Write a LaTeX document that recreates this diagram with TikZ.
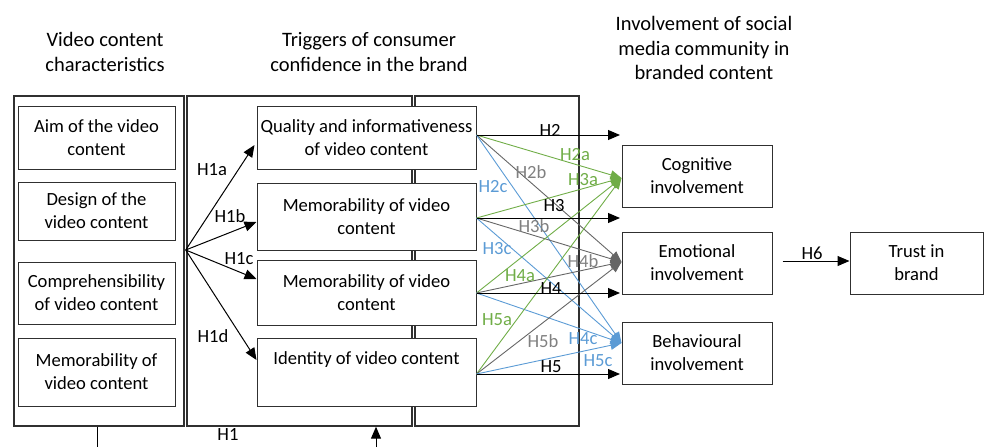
\documentclass[tikz,border=0pt]{standalone}
\usepackage{fontspec}
\setmainfont{Carlito}
\usetikzlibrary{arrows.meta,calc}
\definecolor{hgreen}{HTML}{70AD47}
\definecolor{hblue}{HTML}{5B9BD5}
\definecolor{hgrayl}{HTML}{666666}
\definecolor{hgrayt}{HTML}{808080}
\definecolor{frm}{HTML}{303030}
\tikzset{
  every node/.style={font=\fontsize{18.6}{22.8}\selectfont, inner sep=0pt},
  frame/.style={draw=frm, line width=1.4pt},
  box/.style={draw=frm, fill=white, line width=1pt, align=center},
  arr/.style={draw=black, line width=1pt, -{Triangle[length=12pt,width=10pt]}},
  garr/.style={draw=hgreen, line width=0.9pt, -{Triangle[length=11pt,width=9pt]}},
  yarr/.style={draw=hgrayl, line width=0.9pt, -{Triangle[length=11pt,width=9pt]}},
  barr/.style={draw=hblue, line width=0.9pt, -{Triangle[length=11pt,width=9pt]}},
  lab/.style={text=black},
  glab/.style={text=hgreen},
  ylab/.style={text=hgrayt},
  blab/.style={text=hblue},
  title/.style={align=center, font=\fontsize{20.5}{24.3}\selectfont}
}
\begin{document}
\begin{tikzpicture}[x=1pt,y=-1pt]
\useasboundingbox (0,0) rectangle (984,447);
% titles
\node[title] (t1) at (105,52) {Video content\\characteristics};
\node[title] (t2) at (369,52) {Triggers of consumer\\confidence in the brand};
\node[title] (t3) at (704,48) {Involvement of social\\media community in\\branded content};
% frames
\node[frame, minimum width=170, minimum height=330] (f1) at (99,261) {};
\node[frame, minimum width=225, minimum height=330] (f2) at (299.5,261) {};
\node[frame, minimum width=164, minimum height=330] (f3) at (497,261) {};
% left boxes
\node[box, minimum width=157, minimum height=63] (l1) at (96.5,137.5) {Aim of the video\\content};
\node[box, minimum width=157, minimum height=58] (l2) at (96.5,211) {Design of the\\video content};
\node[box, minimum width=157, minimum height=62] (l3) at (96.5,293) {Comprehensibility\\of video content};
\node[box, minimum width=157, minimum height=68] (l4) at (96.5,372) {Memorability of\\video content};
% middle boxes
\node[box, minimum width=219, minimum height=63] (b1) at (366.5,137.5) {Quality and informativeness\\of video content};
\node[box, minimum width=219, minimum height=67] (b2) at (366.5,216.5) {Memorability of video\\content};
\node[box, minimum width=219, minimum height=65] (b3) at (366.5,292.5) {Memorability of video\\content};
\node[box, minimum width=219, minimum height=68] (b4) at (366.5,372) {Identity of video content\\[6pt]\mbox{}};
% right boxes
\node[box, minimum width=150, minimum height=62] (cog) at (697,176) {Cognitive\\involvement};
\node[box, minimum width=150, minimum height=62] (emo) at (697,263) {Emotional\\involvement};
\node[box, minimum width=150, minimum height=62] (beh) at (697,353) {Behavioural\\involvement};
\node[box, minimum width=133, minimum height=62] (tru) at (916.5,263) {Trust in\\brand};
% H1 fan
\coordinate (fan) at ($(f1.east)+(1,-11)$);
\draw[arr] (fan) -- ($(b1.west)+(-2,7.5)$);
\draw[arr] (fan) -- ($(b2.west)+(0,5.5)$);
\draw[arr] (fan) -- ($(b3.west)+(0,-13.5)$);
\draw[arr] (fan) -- ($(b4.west)+(0,-12)$);
\node[lab] (h1a) at (212,170) {H1a};
\node[lab] (h1b) at (230,216) {H1b};
\node[lab] (h1c) at (239,259) {H1c};
\node[lab] (h1d) at (213,336) {H1d};
\node[lab] (h1) at (228,435) {H1};
% bottom connectors
\coordinate (bl) at (97,447);
\coordinate (br) at (376,447);
\draw[line width=1pt] ($(f1.south)+(-2,0)$) -- (bl);
\draw[arr] (br) -- ($(f2.south)+(76.5,0)$);
% sources
\coordinate (s1) at ($(b1.east)+(0,-2.5)$);
\coordinate (s2) at ($(b2.east)+(0,1.5)$);
\coordinate (s3) at ($(b3.east)+(0,0.5)$);
\coordinate (s4) at ($(b4.east)+(0,2)$);
\coordinate (cg) at ($(cog.west)+(0,2)$);
\coordinate (em) at ($(emo.west)+(0,-1)$);
\coordinate (be) at ($(beh.west)+(0,-10)$);
% coloured paths
\foreach \s in {s1,s2,s3,s4}{
  \draw[garr] (\s) -- (cg);
  \draw[yarr] (\s) -- (em);
  \draw[barr] (\s) -- (be);
}
% black arrows
\coordinate (e2) at (620,135);
\coordinate (e3) at (620,218);
\coordinate (e4) at (620,293);
\coordinate (e5) at (620,374);
\draw[arr] (s1) -- (e2);
\draw[arr] (s2) -- (e3);
\draw[arr] (s3) -- (e4);
\draw[arr] (s4) -- (e5);
\node[lab] (h2) at (550,130) {H2};
\node[lab] (h3) at (554,206) {H3};
\node[lab] (h4) at (551,289) {H4};
\node[lab] (h5) at (551,367) {H5};
% coloured labels
\node[glab] (h2a) at (575,155) {H2a};
\node[ylab] (h2b) at (531,172) {H2b};
\node[blab] (h2c) at (493,187) {H2c};
\node[glab] (h3a) at (583,180) {H3a};
\node[ylab] (h3b) at (534,226) {H3b};
\node[blab] (h3c) at (497,249) {H3c};
\node[glab] (h4a) at (520,276) {H4a};
\node[ylab] (h4b) at (583,261) {H4b};
\node[blab] (h4c) at (583,339) {H4c};
\node[glab] (h5a) at (497,320) {H5a};
\node[ylab] (h5b) at (543,341) {H5b};
\node[blab] (h5c) at (598,361) {H5c};
% H6
\coordinate (h6s) at ($(emo.east)+(10,-2)$);
\draw[arr] (h6s) -- ($(tru.west)+(0,-2)$);
\node[lab] (h6) at (812,253) {H6};
\end{tikzpicture}
\end{document}
